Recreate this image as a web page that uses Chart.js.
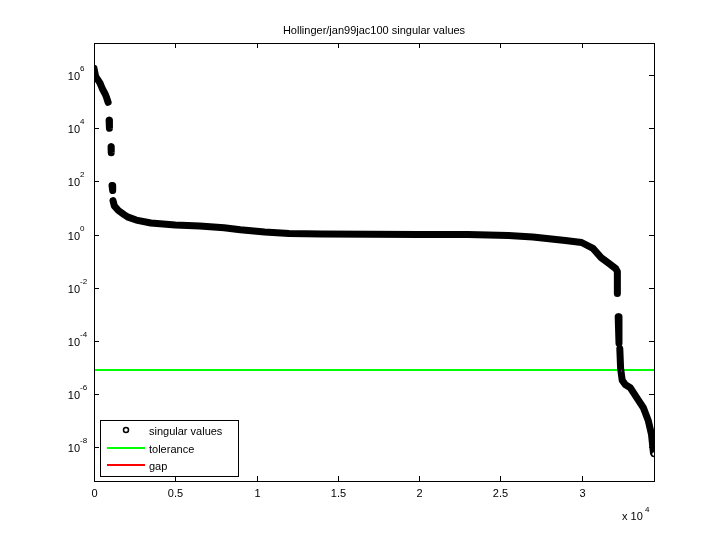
<!DOCTYPE html>
<html>
<head>
<meta charset="utf-8">
<script src="https://cdn.jsdelivr.net/npm/chart.js@4"></script>
<style>body{margin:0;background:#fff}</style>
</head>
<body>
<canvas id="c" width="720" height="540"></canvas>
<script>
// singular values (null = visible break in the curve)
const svX = [0,100,371,520,680,780,870,null,
  930,950,null,
  1050,1060,null,
  1110,1150,null,
  1170,1250,1500,1850,2100,2600,3500,5000,6500,8000,9000,10500,12000,14000,17000,20000,23000,25500,27000,29000,30000,30700,31200,31700,32100,32200,32200,null,
  32250,32300,null,
  32350,32400,32500,32700,33000,33400,33800,34100,34300,34380,34420];
const svY = [1.8e6,9e5,5e5,3e5,2e5,1.4e5,9.5e4,null,
  2e4,1e4,null,
  2e3,1.2e3,null,
  70,45,null,
  19,12,8,5.6,4.5,3.5,2.7,2.3,2.1,1.8,1.5,1.25,1.1,1.05,1.02,1.0,1.0,0.91,0.8,0.59,0.5,0.3,0.135,0.08,0.052,0.04,0.006,null,
  8e-4,8e-5,null,
  5e-5,9e-6,3.2e-6,2.2e-6,1.7e-6,7e-7,3e-7,1e-7,3e-8,1e-8,6e-9];
const lastPoint = {x: 34454, y: 5.5e-9};
const tolerance = 8e-6;
const gapX = [32420, 32480];
const xTicks = [0, 5000, 10000, 15000, 20000, 25000, 30000];
const xTickLabels = ['0', '0.5', '1', '1.5', '2', '2.5', '3'];
const yTickExp = [-8, -6, -4, -2, 0, 2, 4, 6];
const xMax = 34454;

const FONT = '11px "Liberation Sans", Arial, sans-serif';
const SMALL = '8px "Liberation Sans", Arial, sans-serif';
const svData = svX.map((x, i) => ({x: x === null ? 32200 : x, y: svY[i]}));

const matlabAxes = {
  id: 'matlabAxes',
  afterDraw(chart) {
    const ctx = chart.ctx, a = chart.chartArea;
    const xs = chart.scales.x, ys = chart.scales.y;
    ctx.save();
    ctx.strokeStyle = '#000';
    ctx.lineWidth = 1;
    ctx.strokeRect(a.left + 0.5, a.top + 0.5, a.right - a.left, a.bottom - a.top);
    ctx.fillStyle = '#000';
    ctx.font = FONT;
    // x ticks
    ctx.textAlign = 'center';
    ctx.textBaseline = 'top';
    xTicks.forEach((v, i) => {
      const px = Math.round(xs.getPixelForValue(v)) + 0.5;
      ctx.beginPath();
      ctx.moveTo(px, a.bottom); ctx.lineTo(px, a.bottom - 5);
      ctx.moveTo(px, a.top); ctx.lineTo(px, a.top + 5);
      ctx.stroke();
      ctx.fillText(xTickLabels[i], px, a.bottom + 7);
    });
    ctx.textAlign = 'left';
    ctx.fillText('x 10', 622, 511);
    ctx.font = SMALL;
    ctx.fillText('4', 645, 506);
    // y ticks
    yTickExp.forEach(e => {
      const py = Math.round(ys.getPixelForValue(Math.pow(10, e))) + 0.5;
      ctx.beginPath();
      ctx.moveTo(a.left, py); ctx.lineTo(a.left + 5, py);
      ctx.moveTo(a.right, py); ctx.lineTo(a.right - 5, py);
      ctx.stroke();
      ctx.textBaseline = 'middle';
      const ex = String(e);
      ctx.font = SMALL;
      ctx.textAlign = 'left';
      ctx.fillText(ex, a.left - 14, py - 7);
      ctx.font = FONT;
      ctx.textAlign = 'right';
      ctx.fillText('10', a.left - 14, py + 1);
    });
    // title
    ctx.textAlign = 'center';
    ctx.textBaseline = 'alphabetic';
    ctx.fillText('Hollinger/jan99jac100 singular values', (a.left + a.right) / 2, 34);
    // legend
    const lx = 100, ly = 420, lw = 138, lh = 56;
    ctx.fillStyle = '#fff';
    ctx.fillRect(lx, ly, lw, lh);
    ctx.strokeRect(lx + 0.5, ly + 0.5, lw, lh);
    ctx.lineWidth = 1.5;
    ctx.beginPath(); ctx.arc(126, 430, 2.5, 0, Math.PI * 2); ctx.stroke();
    ctx.lineWidth = 2;
    ctx.strokeStyle = '#00ff00';
    ctx.beginPath(); ctx.moveTo(107, 448); ctx.lineTo(145, 448); ctx.stroke();
    ctx.strokeStyle = '#ff0000';
    ctx.beginPath(); ctx.moveTo(107, 465); ctx.lineTo(145, 465); ctx.stroke();
    ctx.fillStyle = '#000';
    ctx.textAlign = 'left';
    ctx.textBaseline = 'middle';
    ctx.fillText('singular values', 149, 432);
    ctx.fillText('tolerance', 149, 450);
    ctx.fillText('gap', 149, 467);
    ctx.restore();
  }
};

new Chart(document.getElementById('c'), {
  type: 'line',
  data: {
    datasets: [
      {
        label: 'tolerance',
        data: [{x: 0, y: tolerance}, {x: xMax, y: tolerance}],
        borderColor: '#00ff00', borderWidth: 2, pointRadius: 0, order: 2
      },
      {
        label: 'singular values',
        data: svData,
        borderColor: '#000', borderWidth: 7, borderCapStyle: 'round', borderJoinStyle: 'round',
        pointRadius: 0, spanGaps: false, tension: 0, order: 1
      },
      {
        label: 'last',
        data: [lastPoint],
        borderColor: '#000', backgroundColor: '#fff', pointRadius: 2.5, borderWidth: 1.5, showLine: false, order: 0
      },
      {
        label: 'gap',
        data: [{x: gapX[0], y: tolerance * 0.92}, {x: gapX[1], y: tolerance * 0.92}],
        borderColor: '#ff0000', borderWidth: 2, pointRadius: 0, order: 0
      }
    ]
  },
  options: {
    responsive: false,
    animation: false,
    layout: {padding: {left: 94, right: 66, top: 43, bottom: 59}},
    plugins: {legend: {display: false}, tooltip: {enabled: false}, title: {display: false}},
    scales: {
      x: {type: 'linear', display: false, min: 0, max: xMax},
      y: {type: 'logarithmic', display: false, min: Math.pow(10, -9.28), max: Math.pow(10, 7.21)}
    }
  },
  plugins: [matlabAxes]
});
</script>
</body>
</html>
